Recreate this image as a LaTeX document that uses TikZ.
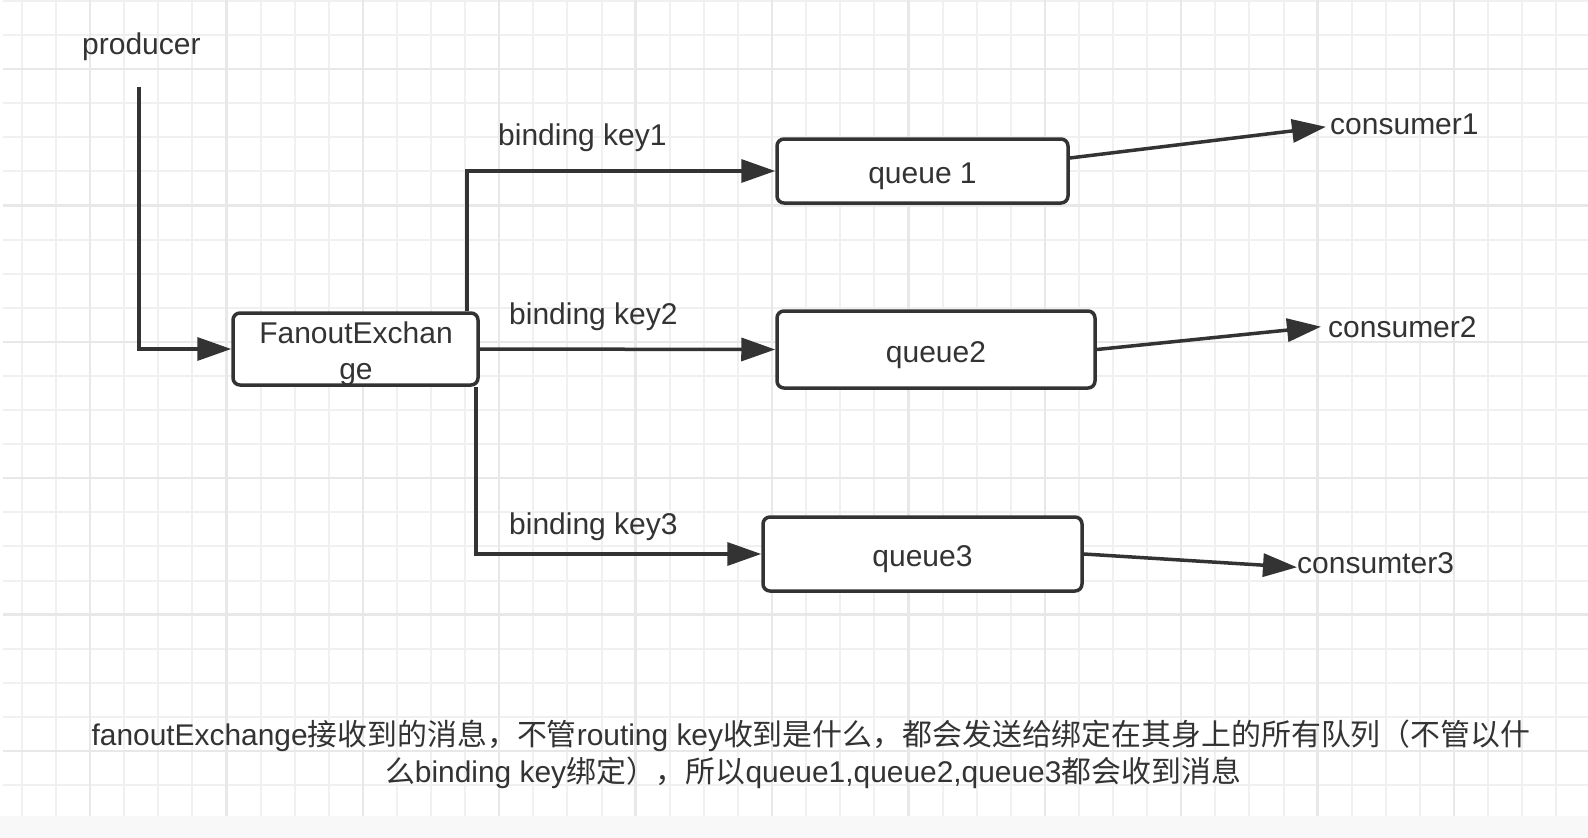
\documentclass[tikz,border=0pt]{standalone}
\usepackage{fontspec}
\setmainfont{Liberation Sans}
\newfontfamily\cjk{Noto Sans CJK SC}
\usetikzlibrary{arrows.meta}
\definecolor{ink}{HTML}{333333}
\definecolor{gridminor}{HTML}{F0F0F0}
\definecolor{gridmajor}{HTML}{E8E8E8}
\definecolor{strip}{HTML}{F8F8F8}
\newcommand\lblfont{\fontsize{30}{36}\selectfont}
\newcommand\notefont{\fontsize{29.9}{36}\selectfont}
\tikzset{
  box/.style={draw=ink, line width=3.5pt, rounded corners=7pt, fill=white,
    inner sep=0pt, font=\lblfont, text=ink, text height=25pt, text depth=0pt},
  conn/.style={draw=ink, line width=3.5pt, -{Triangle[length=34pt,width=23pt]}},
  lbl/.style={inner sep=0pt, font=\lblfont, text=ink, anchor=base west},
  note/.style={inner sep=0pt, font=\notefont, text=ink, anchor=base},
  gmin/.style={draw=gridminor, line width=2pt},
  gmaj/.style={draw=gridmajor, line width=2.5pt}
}
\begin{document}
\begin{tikzpicture}[x=1pt,y=-1pt]
\useasboundingbox (0,0) rectangle (1588,838);
\fill[white] (0,0) rectangle (1588,838);
\fill[strip] (0,816) rectangle (1588,838);
% grid
\foreach \k in {-2,...,43} \draw[gmin] ({90+34.1*\k},0) -- ({90+34.1*\k},816);
\foreach \k in {-2,...,21} \draw[gmin] (3,{69+34.1*\k}) -- (1588,{69+34.1*\k});
\foreach \m in {0,...,10} \draw[gmaj] ({90+136.4*\m},0) -- ({90+136.4*\m},816);
\foreach \m in {0,...,5} \draw[gmaj] (3,{69+136.4*\m}) -- (1588,{69+136.4*\m});

% nodes
\node[lbl] (prod) at (82,54) {producer};
\coordinate (pstart) at (139,87);
\node[box, minimum width=245pt, minimum height=72pt] (fx) at (355.5,349) {};
\node[lbl, anchor=base] (fxt1) at (356,343) {FanoutExchan};
\node[lbl, anchor=base] (fxt2) at (356,379) {ge};
\node[box, minimum width=291pt, minimum height=64pt] (q1) at (922.5,171) {queue 1};
\node[box, minimum width=318pt, minimum height=77pt] (q2) at (936,349.5) {queue2};
\node[box, minimum width=319pt, minimum height=74pt] (q3) at (922.5,554) {queue3};
\node[lbl] (k1) at (498,145) {binding key1};
\node[lbl] (k2) at (509,324) {binding key2};
\node[lbl] (k3) at (509,534) {binding key3};
\node[lbl] (c1) at (1330,134) {consumer1};
\node[lbl] (c2) at (1328,337) {consumer2};
\node[lbl] (c3) at (1297,573) {consumter3};

% connectors
\draw[conn] (pstart) |- (fx.west);
\draw[conn] ([xshift=-13pt]fx.north east) |- (q1.west);
\draw[conn] (fx.east) -- (q2.west);
\draw[conn] ([xshift=-4pt]fx.south east) |- (q3.west);
\draw[conn] ([yshift=13pt]q1.east) -- ([xshift=-4pt,yshift=-3pt]c1.west);
\draw[conn] (q2.east) -- ([xshift=-7pt]c2.west);
\draw[conn] (q3.east) -- ([yshift=-4.6pt]c3.west);

% note
\node[note] (n1) at (811,745) {fanoutExchange{\cjk 接收到的消息，不管}routing key{\cjk 收到是什么，都会发送给绑定在其身上的所有队列（不管以什}};
\node[note] (n2) at (813,782) {{\cjk 么}binding key{\cjk 绑定），所以}queue1,queue2,queue3{\cjk 都会收到消息}};
\end{tikzpicture}
\end{document}
